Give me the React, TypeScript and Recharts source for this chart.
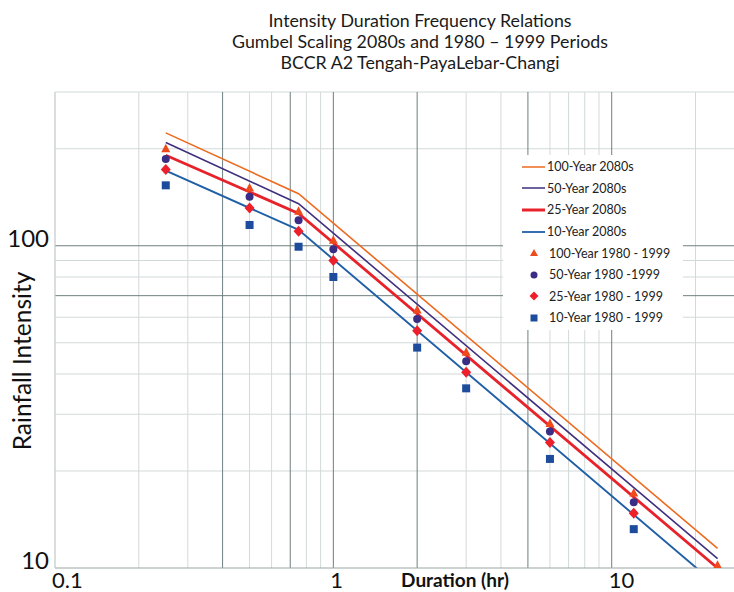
import React from 'react';
import { ComposedChart, Line, Scatter, XAxis, YAxis, ReferenceLine } from 'recharts';

// ---- data ----
const titleLines = [
  'Intensity Duration Frequency Relations',
  'Gumbel Scaling 2080s and 1980 \u2013 1999 Periods',
  'BCCR A2 Tengah-PayaLebar-Changi',
];

const lineDurations = [0.25, 0.75, 24];
const future100 = [224, 145, 11.5];
const future50 = [209, 135, 10.7];
const future25 = [191, 126, 10.0];
const future10 = [171, 112, 8.8];

const histDurations = [0.25, 0.5, 0.75, 1, 2, 3, 6, 12, 24];
const hist100 = [200, 151, 128, 104, 63.2, 46.7, 28.1, 17.1, 10.2];
const hist50 = [186, 142, 120, 97.5, 59.2, 43.8, 26.5, 16.0];
const hist25 = [172.5, 131, 111, 90, 54.5, 40.5, 24.5, 14.8];
const hist10 = [154, 116, 99.3, 80, 48.3, 36.1, 21.8, 13.2];

const xTicks = [0.1, 1, 10];
const yTicks = [10, 100];
const xGridMajor = [0.4, 0.7, 1, 2, 5, 10];
const xGridMinor = [0.1, 0.2, 0.3, 0.5, 0.6, 0.8, 0.9, 3, 4, 6, 7, 8, 9, 20];
const yGridMajor = [70, 100];
const yGridMinor = [20, 30, 40, 50, 60, 80, 90, 200, 300];

const seriesNames = {
  f100: '100-Year 2080s',
  f50: '50-Year 2080s',
  f25: '25-Year 2080s',
  f10: '10-Year 2080s',
  h100: '100-Year 1980 - 1999',
  h50: '50-Year 1980 -1999',
  h25: '25-Year 1980 - 1999',
  h10: '10-Year 1980 - 1999',
};

const toPoints = (xs: number[], ys: number[]) => ys.map((y, i) => ({ x: xs[i], y }));

// ---- styles ----
const FONT = 'Lato, "Liberation Sans", sans-serif';
const C_ORANGE = '#ED6A1F';
const C_PURPLE = '#3F2F7E';
const C_RED = '#E8222B';
const C_BLUE = '#1F5FA6';
const C_TRI = '#EE4A1C';
const C_DOT = '#3A2D86';
const C_DIAM = '#EC1F2A';
const C_SQ = '#1E4C9C';
const GRID_LIGHT = '#d3d9d9';
const GRID_DARK = '#6f7f7f';

const triangle = (fill: string) => (p: any) => (
  <polygon
    points={`${p.cx},${p.cy - 5} ${p.cx - 4.5},${p.cy + 3.5} ${p.cx + 4.5},${p.cy + 3.5}`}
    fill={fill}
  />
);
const circle = (fill: string) => (p: any) => <circle cx={p.cx} cy={p.cy} r={4} fill={fill} />;
const diamond = (fill: string) => (p: any) => (
  <polygon
    points={`${p.cx},${p.cy - 5.5} ${p.cx + 5},${p.cy} ${p.cx},${p.cy + 5.5} ${p.cx - 5},${p.cy}`}
    fill={fill}
  />
);
const square = (fill: string) => (p: any) => (
  <rect x={p.cx - 4} y={p.cy - 4} width={8} height={8} fill={fill} />
);

const XTick = (p: any) => (
  <text x={p.x - 3} y={588} textAnchor="start" fontSize={22} fontFamily={FONT} fill="#111">
    {p.payload.value}
  </text>
);
const YTick = (p: any) => (
  <text x={p.x - 4} y={p.y + 1} textAnchor="end" fontSize={24} fontFamily={FONT} fill="#111">
    {p.payload.value}
  </text>
);

const legendItems = [
  { name: seriesNames.f100, kind: 'line', color: C_ORANGE, w: 1.5 },
  { name: seriesNames.f50, kind: 'line', color: C_PURPLE, w: 1.5 },
  { name: seriesNames.f25, kind: 'line', color: C_RED, w: 3 },
  { name: seriesNames.f10, kind: 'line', color: C_BLUE, w: 1.8 },
  { name: seriesNames.h100, kind: 'tri', color: C_TRI },
  { name: seriesNames.h50, kind: 'dot', color: C_DOT },
  { name: seriesNames.h25, kind: 'diam', color: C_DIAM },
  { name: seriesNames.h10, kind: 'sq', color: C_SQ },
];

const LegendBox = () => (
  <div
    style={{
      position: 'absolute',
      left: 503,
      top: 155,
      width: 180,
      height: 175,
      background: '#fff',
      fontFamily: FONT,
      fontSize: 12.5,
      color: '#222',
      paddingTop: 1,
      boxSizing: 'border-box',
    }}
  >
    {legendItems.map((it) => (
      <div key={it.name} style={{ display: 'flex', alignItems: 'center', height: 21.6 }}>
        <svg width={44} height={14} style={{ flex: 'none' }}>
          {it.kind === 'line' && <line x1={19} x2={42} y1={7} y2={7} stroke={it.color} strokeWidth={it.w} />}
          {it.kind === 'tri' && <polygon points="31,3 27,10 35,10" fill={it.color} />}
          {it.kind === 'dot' && <circle cx={31} cy={7} r={3.5} fill={it.color} />}
          {it.kind === 'diam' && <polygon points="31,2.5 35.5,7 31,11.5 26.5,7" fill={it.color} />}
          {it.kind === 'sq' && <rect x={27.5} y={3.5} width={7} height={7} fill={it.color} />}
        </svg>
        <span style={{ whiteSpace: 'nowrap', marginLeft: it.kind === 'line' ? 0 : 2 }}>{it.name}</span>
      </div>
    ))}
  </div>
);

export default function App() {
  return (
    <div style={{ position: 'absolute', left: 0, top: 0, width: 734, height: 592, background: '#fff', overflow: 'hidden' }}>
      <div
        style={{
          position: 'absolute',
          left: 0,
          top: 10,
          width: 840,
          textAlign: 'center',
          fontFamily: FONT,
          fontSize: 17.8,
          lineHeight: '21px',
          color: '#1a1a1a',
        }}
      >
        {titleLines.map((t) => (
          <div key={t}>{t}</div>
        ))}
      </div>
      <ComposedChart
        width={734}
        height={592}
        margin={{ top: 92, right: 0, bottom: 0, left: 0 }}
        style={{ position: 'absolute', left: 0, top: 0 }}
      >
        <XAxis
          dataKey="x"
          type="number"
          scale="log"
          domain={[0.1, 27.5]}
          allowDataOverflow
          ticks={xTicks}
          tick={<XTick />}
          tickLine={false}
          tickSize={0}
          height={24}
          axisLine={{ stroke: '#9aa3a3' }}
          label={{
            content: () => (
              <text
                x={455}
                y={587}
                textAnchor="middle"
                fontSize={19}
                fontWeight={700}
                fontFamily={FONT}
                fill="#111"
              >
                Duration (hr)
              </text>
            ),
          }}
        />
        <YAxis
          dataKey="y"
          type="number"
          scale="log"
          domain={[10, 300]}
          allowDataOverflow
          ticks={yTicks}
          tick={<YTick />}
          tickLine={false}
          tickSize={0}
          width={55}
          axisLine={{ stroke: '#c9cfcf' }}
          label={{
            content: () => (
              <text
                x={31}
                y={361}
                transform="rotate(-90 31 361)"
                textAnchor="middle"
                fontSize={24.5}
                fontFamily={FONT}
                fill="#111"
              >
                Rainfall Intensity
              </text>
            ),
          }}
        />
        {xGridMinor.map((v) => (
          <ReferenceLine key={'xm' + v} x={v} stroke={GRID_LIGHT} strokeWidth={1} />
        ))}
        {yGridMinor.map((v) => (
          <ReferenceLine key={'ym' + v} y={v} stroke={GRID_LIGHT} strokeWidth={1} />
        ))}
        {xGridMajor.map((v) => (
          <ReferenceLine key={'xM' + v} x={v} stroke={GRID_DARK} strokeWidth={1} />
        ))}
        {yGridMajor.map((v) => (
          <ReferenceLine key={'yM' + v} y={v} stroke={GRID_DARK} strokeWidth={1} />
        ))}
        <Line data={toPoints(lineDurations, future100)} dataKey="y" name={seriesNames.f100} stroke={C_ORANGE} strokeWidth={1.6} dot={false} isAnimationActive={false} />
        <Line data={toPoints(lineDurations, future50)} dataKey="y" name={seriesNames.f50} stroke={C_PURPLE} strokeWidth={1.6} dot={false} isAnimationActive={false} />
        <Line data={toPoints(lineDurations, future25)} dataKey="y" name={seriesNames.f25} stroke={C_RED} strokeWidth={2.8} dot={false} isAnimationActive={false} />
        <Line data={toPoints(lineDurations, future10)} dataKey="y" name={seriesNames.f10} stroke={C_BLUE} strokeWidth={1.9} dot={false} isAnimationActive={false} />
        <Scatter data={toPoints(histDurations, hist100)} dataKey="y" name={seriesNames.h100} shape={triangle(C_TRI)} isAnimationActive={false} />
        <Scatter data={toPoints(histDurations, hist50)} dataKey="y" name={seriesNames.h50} shape={circle(C_DOT)} isAnimationActive={false} />
        <Scatter data={toPoints(histDurations, hist25)} dataKey="y" name={seriesNames.h25} shape={diamond(C_DIAM)} isAnimationActive={false} />
        <Scatter data={toPoints(histDurations, hist10)} dataKey="y" name={seriesNames.h10} shape={square(C_SQ)} isAnimationActive={false} />
      </ComposedChart>
      <LegendBox />
    </div>
  );
}
